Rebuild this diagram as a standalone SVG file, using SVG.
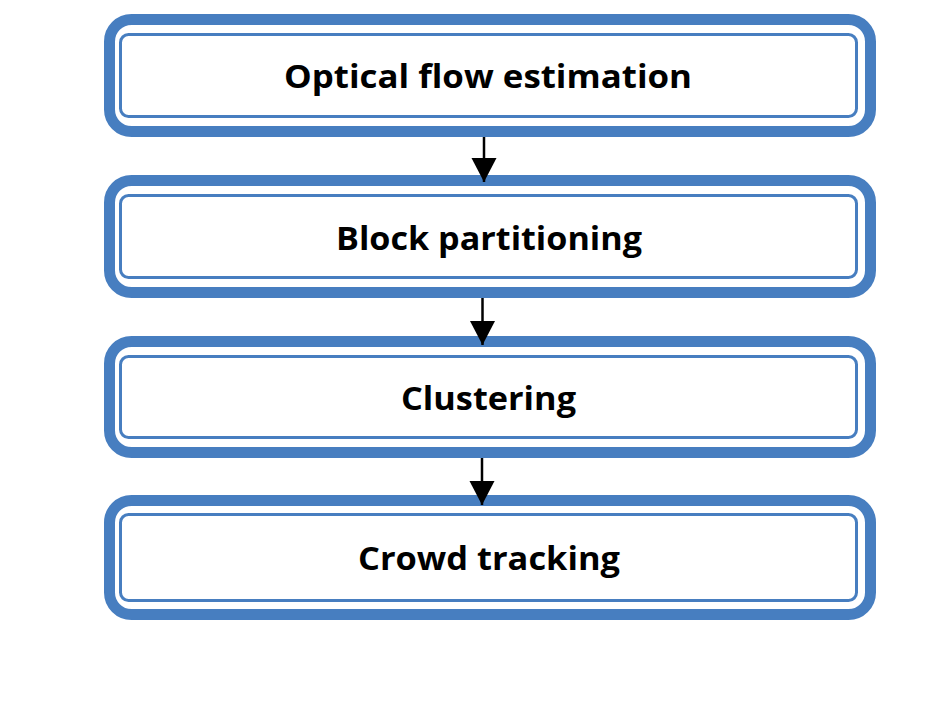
<svg xmlns="http://www.w3.org/2000/svg" width="952" height="708" viewBox="0 0 952 708">
<style>
.outer{fill:#ffffff;stroke:#477ec0;stroke-width:11}
.inner{fill:none;stroke:#477ec0;stroke-width:3}
.lbl{font-family:"Open Sans","Liberation Sans",sans-serif;font-weight:bold;font-size:32px;fill:#000;text-anchor:middle}
.conn{stroke:#000;stroke-width:2.5;fill:none}
</style>
<defs>
<marker id="ah" markerUnits="userSpaceOnUse" markerWidth="26" markerHeight="26" refX="24" refY="12.5" orient="auto">
<path d="M0,0 L24,12.5 L0,25 Z" fill="#000"/>
</marker>
</defs>
<rect width="952" height="708" fill="#ffffff"/>
<g id="node1">
<rect class="outer" x="109.5" y="19.5" width="761" height="112" rx="22"/>
<rect class="inner" x="120.5" y="34.5" width="736" height="82" rx="8"/>
<text class="lbl" x="488" y="88" textLength="408" lengthAdjust="spacingAndGlyphs">Optical flow estimation</text>
</g>
<g id="node2">
<rect class="outer" x="109.5" y="180.5" width="761" height="112" rx="22"/>
<rect class="inner" x="120.5" y="195.5" width="736" height="82" rx="8"/>
<text class="lbl" x="489" y="250" textLength="306" lengthAdjust="spacingAndGlyphs">Block partitioning</text>
</g>
<g id="node3">
<rect class="outer" x="109.5" y="341.5" width="761" height="111" rx="22"/>
<rect class="inner" x="120.5" y="356.5" width="736" height="81" rx="8"/>
<text class="lbl" x="488.5" y="410" textLength="175" lengthAdjust="spacingAndGlyphs">Clustering</text>
</g>
<g id="node4">
<rect class="outer" x="109.5" y="500.5" width="761" height="114" rx="22"/>
<rect class="inner" x="120.5" y="514.5" width="736" height="86" rx="8"/>
<text class="lbl" x="489" y="570" textLength="262" lengthAdjust="spacingAndGlyphs">Crowd tracking</text>
</g>
<g id="connectors">
<line class="conn" x1="484" y1="137" x2="484" y2="182" marker-end="url(#ah)"/>
<line class="conn" x1="482.5" y1="298" x2="482.5" y2="345" marker-end="url(#ah)"/>
<line class="conn" x1="482" y1="458" x2="482" y2="505" marker-end="url(#ah)"/>
</g>
</svg>
